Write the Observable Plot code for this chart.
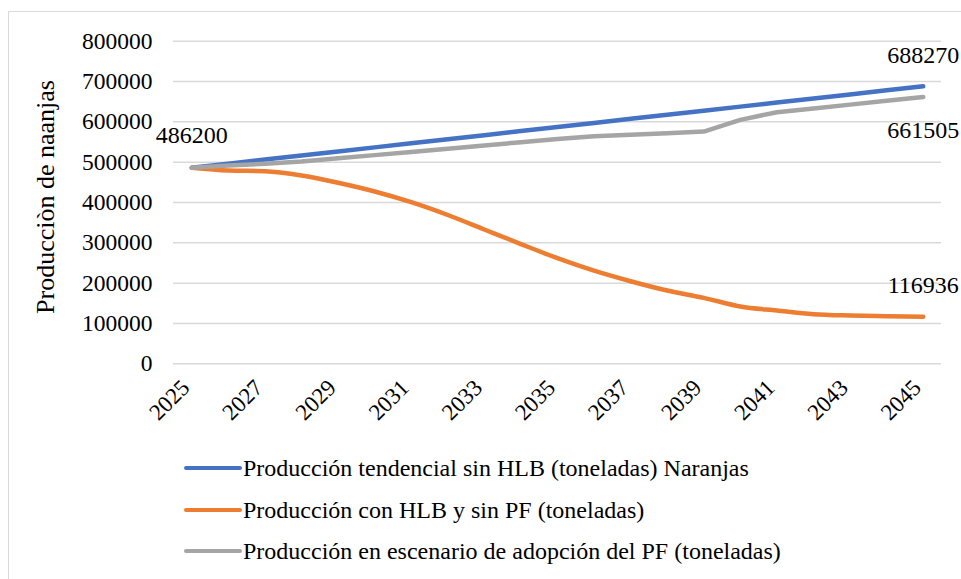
<!DOCTYPE html>
<html>
<head>
<meta charset="utf-8">
<script src="https://cdn.jsdelivr.net/npm/d3@7"></script>
<script src="https://cdn.jsdelivr.net/npm/@observablehq/plot@0.6"></script>
<style>
  html, body { margin: 0; padding: 0; background: #fff; overflow: hidden; width: 961px; height: 579px; }
  #wrap { position: relative; width: 961px; height: 579px; }
  #frame { position: absolute; left: 8px; top: 11px; width: 1000px; height: 1000px; border: 1px solid #d9d9d9; box-sizing: border-box; }
  #chart { position: absolute; left: 0; top: 0; }
  #legend { position: absolute; left: 0; top: 440px; width: 961px; font-family: "Liberation Serif", "Times New Roman", serif; font-size: 24px; color: #000; }
  .row { position: absolute; left: 184px; height: 30px; display: flex; align-items: center; white-space: nowrap; }
  .sw { width: 58px; height: 4.5px; border-radius: 3px; margin-right: 1px; }
</style>
</head>
<body>
<div id="wrap">
  <div id="frame"></div>
  <div id="chart"></div>
  <div id="legend"></div>
</div>
<script>
const years = [2025, 2026, 2027, 2028, 2029, 2030, 2031, 2032, 2033, 2034, 2035, 2036, 2037, 2038, 2039, 2040, 2041, 2042, 2043, 2044, 2045];
const tendencial = [486200, 496304, 506407, 516511, 526614, 536718, 546821, 556925, 567028, 577132, 587235, 597339, 607442, 617546, 627649, 637753, 647856, 657960, 668063, 678167, 688270];
const conHLB = [486200, 479300, 477600, 467000, 448800, 427200, 400700, 369000, 333000, 297000, 262000, 231000, 204800, 181700, 163600, 142000, 132000, 123000, 119700, 118000, 116936];
const adopcionPF = [486200, 491600, 496000, 501600, 509500, 517500, 525500, 533500, 541500, 549500, 557500, 564300, 568000, 572000, 576000, 605000, 623900, 633300, 642700, 652100, 661505];
const seriesNames = [
  "Producción tendencial sin HLB (toneladas) Naranjas",
  "Producción con HLB y sin PF (toneladas)",
  "Producción en escenario de adopción del PF (toneladas)"
];
const seriesColors = ["#4472C4", "#ED7D31", "#A5A5A5"];
const yTicks = [0, 100000, 200000, 300000, 400000, 500000, 600000, 700000, 800000];
const xTicks = [2025, 2027, 2029, 2031, 2033, 2035, 2037, 2039, 2041, 2043, 2045];
const yTitle = "Producciòn de naanjas";

const seriesValues = [tendencial, conHLB, adopcionPF];
const rows = seriesValues.map((vals, s) => years.map((year, i) => ({year, value: vals[i], s})));
const last = years.length - 1;
const labels = [
  {year: years[0], value: adopcionPF[0], dy: -32},
  {year: years[last], value: tendencial[last], dy: -31},
  {year: years[last], value: adopcionPF[last], dy: 33},
  {year: years[last], value: conHLB[last], dy: -31}
];
const serif = "Liberation Serif, Times New Roman, serif";

const plot = Plot.plot({
  width: 961,
  height: 440,
  marginLeft: 173,
  marginRight: 20,
  marginTop: 40.7,
  marginBottom: 76.7,
  style: {fontFamily: serif, background: "transparent", color: "#000"},
  x: {type: "point", domain: years, padding: 0.5, round: false, axis: null},
  y: {domain: [0, 800000], axis: null},
  marks: [
    Plot.ruleY(yTicks, {stroke: "#d9d9d9", strokeWidth: 1.5}),
    Plot.axisY(yTicks, {tickSize: 0, tickPadding: 21, tickFormat: d3.format("d"), fontSize: 23.5, label: null}),
    Plot.axisX(xTicks, {tickSize: 0, tickRotate: -45, tickPadding: 6, tickFormat: d3.format("d"), fontSize: 23, label: null, dx: -6, dy: 14}),
    Plot.line(rows[0], {x: "year", y: "value", stroke: seriesColors[0], strokeWidth: 4.5, strokeLinecap: "round", strokeLinejoin: "round"}),
    Plot.line(rows[1], {x: "year", y: "value", stroke: seriesColors[1], strokeWidth: 4.5, strokeLinecap: "round", strokeLinejoin: "round", curve: "monotone-x"}),
    Plot.line(rows[2], {x: "year", y: "value", stroke: seriesColors[2], strokeWidth: 4.5, strokeLinecap: "round", strokeLinejoin: "round"}),
    ...labels.map(l => Plot.text([l], {x: "year", y: "value", text: d => String(d.value), dy: l.dy, fontSize: 24, textAnchor: "middle", lineAnchor: "middle", fill: "#000"})),
    Plot.text([yTitle], {frameAnchor: "left", text: d => d, rotate: -90, dx: -128, dy: -5.5, fontSize: 26, textAnchor: "middle", lineAnchor: "middle", fill: "#000"})
  ]
});
document.getElementById("chart").appendChild(plot);

const legend = document.getElementById("legend");
const rowCenters = [28, 70, 111];
seriesNames.forEach((name, i) => {
  const row = document.createElement("div");
  row.className = "row";
  row.style.top = (rowCenters[i] - 15) + "px";
  const sw = document.createElement("div");
  sw.className = "sw";
  sw.style.background = seriesColors[i];
  const t = document.createElement("span");
  t.textContent = name;
  row.appendChild(sw);
  row.appendChild(t);
  legend.appendChild(row);
});
</script>
</body>
</html>
